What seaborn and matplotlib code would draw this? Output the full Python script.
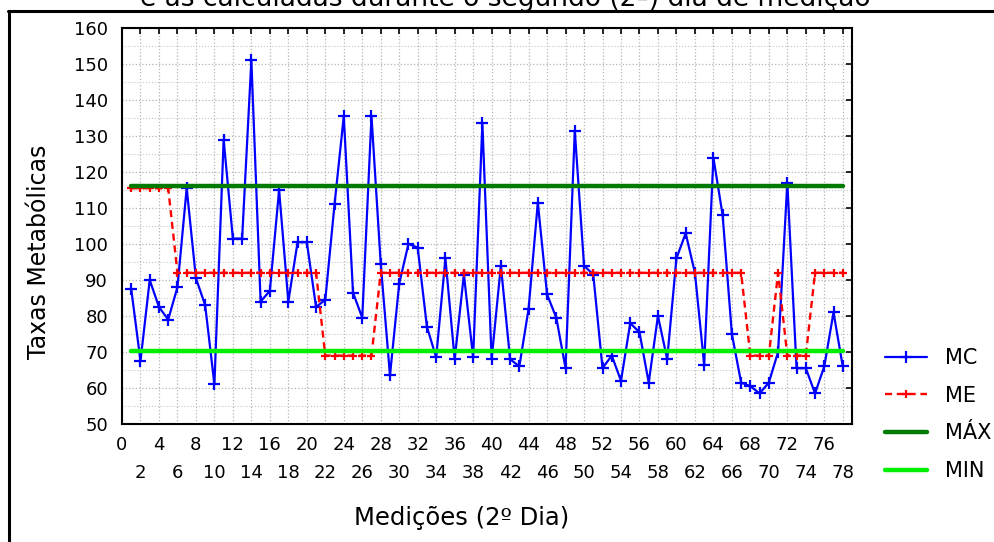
import matplotlib
matplotlib.use("Agg")
import matplotlib.pyplot as plt
from matplotlib.lines import Line2D
from matplotlib.ticker import MultipleLocator, FixedLocator, FixedFormatter
import numpy as np
import pandas as pd
import seaborn as sns

# Measurement index (2nd day)
medicao = list(range(1, 79))

# MC: measured metabolic rates
mc = [87.5, 67.5, 90, 82.5, 79, 88, 115.5, 90.5, 83, 61,
      129, 101.5, 101.5, 151, 84, 87, 115, 84, 100.5, 100.5,
      82.5, 84.5, 111, 135.5, 86.5, 79.5, 135.5, 94.5, 63.5, 89,
      100, 99, 77, 68.5, 96, 68, 91.5, 68.5, 133.5, 68,
      94, 68, 66, 82, 111.5, 86, 79.5, 65.5, 131.5, 94,
      91.5, 65.5, 69, 62, 78, 75.5, 61.5, 80, 68, 96,
      103, 92, 66.5, 124, 108, 75, 61.5, 60.5, 58.5, 61.5,
      70, 117, 65.5, 65.5, 58.5, 66, 81, 66]

# ME: estimated metabolic rates
me = [115.5, 115.5, 115.5, 115.5, 115.5,
      92, 92, 92, 92, 92, 92, 92, 92, 92, 92, 92, 92, 92, 92, 92, 92,
      69, 69, 69, 69, 69, 69,
      92, 92, 92, 92, 92, 92, 92, 92, 92, 92, 92, 92, 92, 92, 92, 92, 92, 92, 92, 92,
      92, 92, 92, 92, 92, 92, 92, 92, 92, 92, 92, 92, 92, 92, 92, 92, 92, 92, 92, 92,
      69, 69, 69,
      92,
      69, 69, 69,
      92, 92, 92, 92]

# Reference limits
max_level = 116.2
min_level = 70.3

x_major = list(range(0, 80, 4))
x_minor = list(range(2, 80, 4))
x_major_labels = [str(v) for v in x_major]
x_minor_labels = [str(v) for v in x_minor]

n = len(medicao)
df = pd.DataFrame({
    "Medição": medicao,
    "MC": mc,
    "ME": me,
    "MÁX": [max_level] * n,
    "MIN": [min_level] * n,
})

sns.set_style("white")
plt.rcParams["font.family"] = ["DejaVu Sans"]
plt.rcParams["text.color"] = "black"
plt.rcParams["axes.labelcolor"] = "black"

W, H = 995, 542
fig = plt.figure(figsize=(W / 100, H / 100), dpi=100)
fig.patch.set_facecolor("white")
ax = fig.add_axes([122 / W, 1 - 424 / H, 730 / W, 396 / H])

blue, red = "#0000ff", "#ff0000"
sns.lineplot(data=df, x="Medição", y="MC", ax=ax, color=blue, lw=1.6,
             marker="+", markersize=8, markeredgewidth=1.6,
             markeredgecolor=blue, markerfacecolor=blue, label="MC", zorder=3)
sns.lineplot(data=df, x="Medição", y="ME", ax=ax, color=red, lw=1.7,
             linestyle=(0, (3, 2)), marker="+", markersize=6, markeredgewidth=1.6,
             markeredgecolor=red, markerfacecolor=red, label="ME", zorder=4)
sns.lineplot(data=df, x="Medição", y="MÁX", ax=ax, color="#007a00", lw=3.2,
             label="MÁX", zorder=5)
sns.lineplot(data=df, x="Medição", y="MIN", ax=ax, color="#00ee00", lw=3.2,
             label="MIN", zorder=5)

ax.set_xlim(0, 79)
ax.set_ylim(50, 160)

ax.xaxis.set_major_locator(FixedLocator(x_major))
ax.xaxis.set_major_formatter(FixedFormatter(x_major_labels))
ax.xaxis.set_minor_locator(FixedLocator(x_minor))
ax.xaxis.set_minor_formatter(FixedFormatter(x_minor_labels))
ax.yaxis.set_major_locator(MultipleLocator(10))
ax.yaxis.set_minor_locator(MultipleLocator(5))

ax.tick_params(axis="both", which="both", direction="in", top=True, right=True,
               colors="black", labelsize=13, width=1.2)
ax.tick_params(axis="x", which="major", length=4, pad=9)
ax.tick_params(axis="x", which="minor", length=4, pad=29)
ax.tick_params(axis="y", which="major", length=4, pad=10)
ax.tick_params(axis="y", which="minor", length=0)

ax.grid(which="major", color="#b4b4b4", linestyle=":", linewidth=0.9)
ax.xaxis.grid(which="minor", color="#b4b4b4", linestyle=":", linewidth=0.9)
ax.yaxis.grid(which="minor", color="#c8c8c8", linestyle=":", linewidth=0.8)
ax.set_axisbelow(True)

for s in ax.spines.values():
    s.set_color("black")
    s.set_linewidth(1.5)

ax.set_xlabel("Medições (2º Dia)", fontsize=17.5)
ax.xaxis.set_label_coords((462 - 122) / 730, (424 - 506) / 396)
ax.set_ylabel("Taxas Metabólicas", fontsize=17)
ax.yaxis.set_label_coords((51 - 122) / 730, (424 - 252) / 396)

ax.legend(loc="upper left", bbox_to_anchor=(885 / W, 1 - 348 / H),
          bbox_transform=fig.transFigure, frameon=False, fontsize=15,
          handlelength=2.0, handletextpad=0.9, labelspacing=0.85,
          borderpad=0, borderaxespad=0)

# Heading line (upper part lies outside the figure) and frame border
fig.text(505 / W, 1 - 6 / H, "e as calculadas durante o segundo (2º) dia de medição",
         ha="center", va="baseline", fontsize=19)
fig.add_artist(Line2D([8 / W, 1.0], [1 - 10.5 / H, 1 - 10.5 / H],
                      transform=fig.transFigure, color="black", lw=2.2))
fig.add_artist(Line2D([8.5 / W, 8.5 / W], [1 - 10.5 / H, 0.0],
                      transform=fig.transFigure, color="black", lw=2.2))

fig.savefig("out.png", dpi=100)
